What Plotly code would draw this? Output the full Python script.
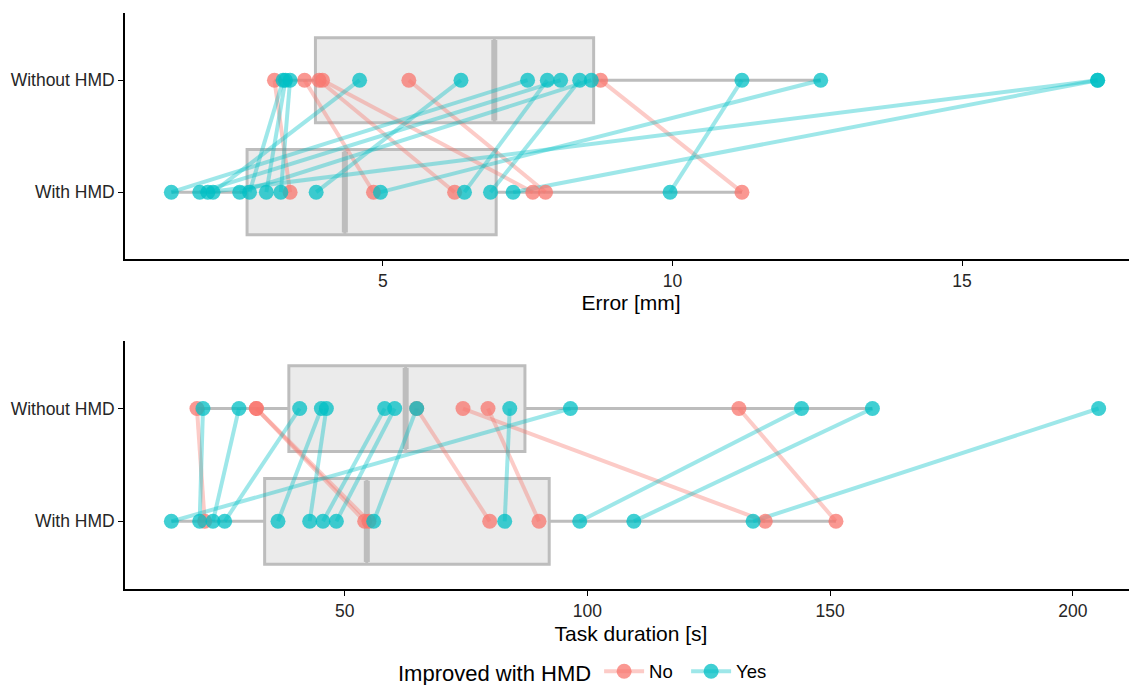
import numpy as np
import plotly.graph_objects as go

# ---------------- data ----------------
conditions = ["With HMD", "Without HMD"]
legend_title = "Improved with HMD"
groups = ["No", "Yes"]

# Error [mm] per participant (paired)
err_without = [3.13, 3.65, 3.90, 3.96, 5.45, 8.76, 3.28, 3.32, 3.40, 4.60,
               6.35, 7.50, 7.84, 8.07, 8.40, 8.60, 11.20, 12.56, 17.34, 17.34]
err_with = [3.40, 4.84, 6.24, 7.59, 7.81, 11.20, 2.70, 2.99, 3.24, 2.07,
            3.85, 1.35, 6.41, 1.84, 6.86, 2.53, 9.96, 4.96, 1.98, 7.25]

# Task duration [s] per participant (paired)
dur_without = [19.57, 31.81, 31.81, 64.83, 74.37, 79.52, 131.2, 20.81, 28.22, 40.73,
               45.20, 46.23, 58.24, 60.30, 64.83, 84.0, 96.5, 144.1, 158.7, 205.3]
dur_with = [21.16, 54.12, 55.0, 79.87, 136.63, 90.03, 151.19, 20.13, 22.87, 25.28,
            36.26, 42.79, 45.53, 48.29, 55.97, 82.96, 14.30, 98.41, 109.56, 134.12]

err_ticks = [5, 10, 15]
dur_ticks = [50, 100, 150, 200]

# ---------------- styling ----------------
RED = (248, 118, 109)
CYAN = (0, 191, 196)
def rgba(c, a):
    return "rgba(%d,%d,%d,%.2f)" % (c[0], c[1], c[2], a)

COL = {"No": RED, "Yes": CYAN}
BOX_LINE = "#BDBDBD"
BOX_FILL = "#EBEBEB"
FONT = "Liberation Sans, Arial, Helvetica, sans-serif"
BOXW = 0.76

fig = go.Figure()

def box_stats(vals):
    v = np.array(vals, dtype=float)
    q1, med, q3 = np.percentile(v, [25, 50, 75])
    iqr = q3 - q1
    lf = v[v >= q1 - 1.5 * iqr].min()
    uf = v[v <= q3 + 1.5 * iqr].max()
    return q1, med, q3, lf, uf

def add_panel(without, with_, xa, ya):
    # boxes
    for pos, vals in [(0, with_), (1, without)]:
        q1, med, q3, lf, uf = box_stats(vals)
        fig.add_trace(go.Box(
            orientation="h", y=[pos], q1=[q1], median=[med], q3=[q3],
            lowerfence=[lf], upperfence=[uf], width=BOXW,
            fillcolor=BOX_FILL, line=dict(color=BOX_LINE, width=3),
            whiskerwidth=0, boxpoints=False, showlegend=False,
            hoverinfo="skip", xaxis=xa, yaxis=ya))
        # thicker median
        fig.add_trace(go.Scatter(
            x=[med, med], y=[pos - BOXW / 2 + 0.02, pos + BOXW / 2 - 0.02],
            mode="lines", line=dict(color=BOX_LINE, width=6),
            showlegend=False, hoverinfo="skip", xaxis=xa, yaxis=ya))
    improved = ["Yes" if w < wo else "No" for wo, w in zip(without, with_)]
    # lines per group
    for g in groups:
        xs, ys = [], []
        for wo, w, im in zip(without, with_, improved):
            if im == g:
                xs += [wo, w, None]
                ys += [1, 0, None]
        fig.add_trace(go.Scatter(
            x=xs, y=ys, mode="lines",
            line=dict(color=rgba(COL[g], 0.38), width=4),
            showlegend=False, hoverinfo="skip", xaxis=xa, yaxis=ya))
    # points in data order
    for wo, w, im in zip(without, with_, improved):
        fig.add_trace(go.Scatter(
            x=[wo, w], y=[1, 0], mode="markers",
            marker=dict(color=rgba(COL[im], 0.75), size=15, line=dict(width=0)),
            showlegend=False, xaxis=xa, yaxis=ya))

add_panel(err_without, err_with, "x", "y")
add_panel(dur_without, dur_with, "x2", "y2")

# legend entries
for g in groups:
    fig.add_trace(go.Scatter(
        x=[None], y=[None], mode="lines+markers", name=g,
        line=dict(color=rgba(COL[g], 0.38), width=4),
        marker=dict(color=rgba(COL[g], 0.75), size=15),
        xaxis="x", yaxis="y"))

# page body has an 8px margin, so the figure is sized/offset to compensate
W, H = 1129, 677
M_L, M_R, M_T, M_B = 117, 0, 4.5, 96.2
H_PLOT = H - M_T - M_B
top_dom = [1 - 246.5 / H_PLOT, 1]
bot_dom = [0, 248.3 / H_PLOT]

axis_common = dict(
    showline=True, linecolor="black", linewidth=1.6, ticks="outside",
    ticklen=5, tickwidth=1.4, tickcolor="black", showgrid=False, zeroline=False,
    automargin=False,
    tickfont=dict(size=17.5, color="#262626", family=FONT),
)

fig.update_layout(
    width=W, height=H,
    margin=dict(l=M_L, r=M_R, t=M_T, b=M_B, autoexpand=False),
    plot_bgcolor="white", paper_bgcolor="white",
    font=dict(family=FONT, color="black"),
    xaxis=dict(axis_common, domain=[0, 1], anchor="y", range=[0.55, 18.02],
               tickvals=err_ticks,
               title=dict(text="Error [mm]", font=dict(size=21), standoff=4)),
    yaxis=dict(axis_common, domain=top_dom, anchor="x", range=[-0.6, 1.6],
               tickvals=[0, 1], ticktext=conditions),
    xaxis2=dict(axis_common, domain=[0, 1], anchor="y2", range=[4.75, 213.2],
                tickvals=dur_ticks,
                title=dict(text="Task duration [s]", font=dict(size=21), standoff=7)),
    yaxis2=dict(axis_common, domain=bot_dom, anchor="x2", range=[-0.6, 1.6],
                tickvals=[0, 1], ticktext=conditions),
    legend=dict(
        orientation="h", x=0.4545, xanchor="center", y=-0.1444, yanchor="middle",
        title=dict(text=legend_title, font=dict(size=22), side="left"),
        font=dict(size=18.5), itemwidth=40, entrywidth=32, bgcolor="rgba(0,0,0,0)"),
    showlegend=True,
)

fig.write_html("out.html")
